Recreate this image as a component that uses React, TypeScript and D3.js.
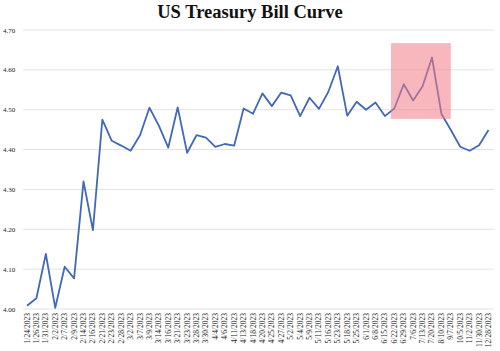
import React, { useEffect, useRef } from "react";
import * as d3 from "d3";

const dates = [
  "1/24/2023", "1/26/2023", "1/31/2023", "2/2/2023", "2/7/2023", "2/9/2023",
  "2/14/2023", "2/16/2023", "2/21/2023", "2/23/2023", "2/28/2023", "3/2/2023",
  "3/7/2023", "3/9/2023", "3/14/2023", "3/16/2023", "3/21/2023", "3/23/2023",
  "3/28/2023", "3/30/2023", "4/4/2023", "4/6/2023", "4/11/2023", "4/13/2023",
  "4/18/2023", "4/20/2023", "4/25/2023", "4/27/2023", "5/2/2023", "5/4/2023",
  "5/9/2023", "5/11/2023", "5/16/2023", "5/23/2023", "5/18/2023", "5/25/2023",
  "6/1/2023", "6/8/2023", "6/15/2023", "6/22/2023", "6/29/2023", "7/6/2023",
  "7/13/2023", "7/20/2023", "8/10/2023", "9/7/2023", "10/5/2023", "11/2/2023",
  "11/30/2023", "12/28/2023",
];

const yields = [
  4.008, 4.027, 4.138, 4.003, 4.106, 4.077, 4.32, 4.198, 4.475, 4.422, 4.41,
  4.397, 4.436, 4.505, 4.46, 4.405, 4.506, 4.392, 4.436, 4.43, 4.407, 4.414,
  4.41, 4.503, 4.49, 4.541, 4.509, 4.543, 4.536, 4.484, 4.53, 4.502, 4.545,
  4.609, 4.485, 4.52, 4.5, 4.518, 4.484, 4.503, 4.564, 4.523, 4.559, 4.631,
  4.49, 4.449, 4.407, 4.397, 4.411, 4.449,
];

const yTicks = [4.0, 4.1, 4.2, 4.3, 4.4, 4.5, 4.6, 4.7];

// highlighted block: from just before 6/22 to 9/7
const highlightIdx = [38.65, 45];
const highlightVal = [4.477, 4.667];

const width = 500;
const height = 351;

export default function App() {
  const ref = useRef<SVGSVGElement>(null);

  useEffect(() => {
    const svg = d3.select(ref.current);
    svg.selectAll("*").remove();

    const x = d3.scaleLinear().domain([0, dates.length - 1]).range([27, 488.5]);
    const y = d3.scaleLinear().domain([4.0, 4.7]).range([309, 30]);

    svg
      .append("rect")
      .attr("width", width)
      .attr("height", height)
      .attr("fill", "#fff");

    svg
      .append("text")
      .attr("x", 250)
      .attr("y", 18)
      .attr("text-anchor", "middle")
      .style("font-family", "'Liberation Serif', serif")
      .style("font-weight", "bold")
      .style("font-size", "18.5px")
      .attr("fill", "#111")
      .text("US Treasury Bill Curve");

    const grid = svg.append("g");
    grid
      .selectAll("line")
      .data(yTicks)
      .join("line")
      .attr("x1", 23)
      .attr("x2", 494)
      .attr("y1", (d) => y(d))
      .attr("y2", (d) => y(d))
      .attr("stroke", "#e2e2e2")
      .attr("stroke-width", 1);

    grid
      .selectAll("text")
      .data(yTicks)
      .join("text")
      .attr("x", 3)
      .attr("y", (d) => y(d) + 2.5)
      .style("font-family", "'Liberation Serif', serif")
      .style("font-size", "7px")
      .attr("fill", "#222")
      .text((d) => d.toFixed(2));

    const line = d3
      .line<number>()
      .x((_, i) => x(i))
      .y((d) => y(d));

    svg
      .append("path")
      .datum(yields)
      .attr("d", line)
      .attr("fill", "none")
      .attr("stroke", "#4169b8")
      .attr("stroke-width", 1.8)
      .attr("stroke-linejoin", "round");

    svg
      .append("rect")
      .attr("x", x(highlightIdx[0]))
      .attr("y", y(highlightVal[1]))
      .attr("width", x(highlightIdx[1]) - x(highlightIdx[0]))
      .attr("height", y(highlightVal[0]) - y(highlightVal[1]))
      .attr("fill", "#f27b86")
      .attr("fill-opacity", 0.55);

    svg
      .append("g")
      .selectAll("text")
      .data(dates)
      .join("text")
      .attr(
        "transform",
        (_, i) => `translate(${x(i) + 2.5},313) rotate(-90)`
      )
      .attr("text-anchor", "end")
      .style("font-family", "'Liberation Serif', serif")
      .style("font-size", "7.5px")
      .attr("fill", "#222")
      .text((d) => d);
  }, []);

  return (
    <svg
      ref={ref}
      width={width}
      height={height}
      style={{ position: "absolute", left: 0, top: 0 }}
    />
  );
}
